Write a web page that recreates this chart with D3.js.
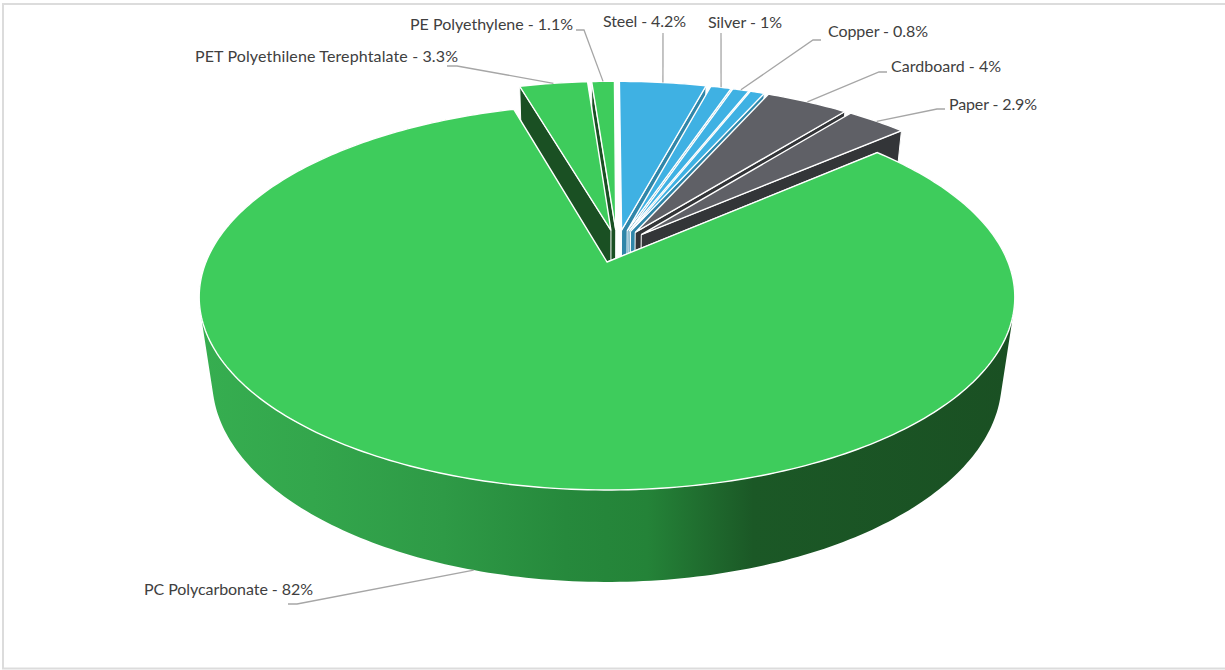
<!DOCTYPE html>
<html><head><meta charset="utf-8">
<script src="https://cdn.jsdelivr.net/npm/d3@7"></script>
<style>html,body{margin:0;padding:0;background:#fff}svg{display:block}</style></head>
<body><svg id="c" width="1225" height="670"></svg>
<script>
const categories=["Steel","Silver","Copper","Other","Cardboard","Paper","PC Polycarbonate","PET Polyethilene Terephtalate","PE Polyethylene"];
const values=[4.2,1,0.8,0.7,4,2.9,82,3.3,1.1];
const tickLabels=["Steel - 4.2%","Silver - 1%","Copper - 0.8%","","Cardboard - 4%","Paper - 2.9%","PC Polycarbonate - 82%","PET Polyethilene Terephtalate - 3.3%","PE Polyethylene - 1.1%"];
const groups=["blue","blue","blue","blue","grey","grey","green","green","green"];

const W=1225,H=670;
const svg=d3.select("#c");
svg.append("rect").attr("x",3).attr("y",4).attr("width",W-2).attr("height",H-5.5).attr("fill","#fff").attr("stroke","#dcdcdc").attr("stroke-width",2);

const topCol={blue:"#3fb1e3",grey:"#5f6066",green:"#3ecc5c"};
const wallCol={blue:"#2f86a9",grey:"#333538",green:"#1a5023"};

const cx=607,cy=262,k=401,m=186.5,d=5.5,depth=85.5,a=0.032,ex=0.09;
function proj(u,v,h){const f=1+v/d+h*a;return [cx+k*u/f,cy-(m*v-depth*h)/f];}

const pie=d3.pie().value(v=>v).sort(null).startAngle(0).endAngle(2*Math.PI);
const arcs=pie(values).map((p,i)=>({...p,i,mid:(p.startAngle+p.endAngle)/2}));
const pc=arcs[6];
const c0=[-ex*Math.sin(pc.mid),-ex*Math.cos(pc.mid)];
arcs.forEach(s=>{s.ax=c0[0]+ex*Math.sin(s.mid);s.ay=c0[1]+ex*Math.cos(s.mid);});
const pt=(s,ang,r,h)=>proj(s.ax+r*Math.sin(ang),s.ay+r*Math.cos(ang),h);
const line=d3.line();
function arcPts(s,h){const n=Math.max(6,Math.ceil((s.endAngle-s.startAngle)*60));
  return d3.range(n+1).map(i=>pt(s,s.startAngle+(s.endAngle-s.startAngle)*i/n,1,h));}

const defs=svg.append("defs");
const g=defs.append("linearGradient").attr("id","wall").attr("gradientUnits","userSpaceOnUse").attr("x1",199).attr("x2",1014).attr("y1",0).attr("y2",0);
[[0,"#36ae50"],[0.14,"#33a64c"],[0.3,"#2e9a46"],[0.45,"#26893c"],[0.55,"#248338"],[0.68,"#1b5826"],[1,"#1a5023"]].forEach(([o,c])=>g.append("stop").attr("offset",o).attr("stop-color",c));

const order=arcs.slice().sort((p,q)=>Math.cos(q.mid)-Math.cos(p.mid));
order.forEach(s=>{
  const grp=svg.append("g"),col=groups[s.i];
  const t=arcPts(s,0),b=arcPts(s,1);
  // the outer wall is one path of same-wound quads, so no seams show; back slices hide theirs
  if(Math.cos(s.mid)<0){
    const quads=d3.range(t.length-1).map(j=>{
      const q=[t[j],t[j+1],b[j+1],b[j]];
      return line(d3.polygonArea(q)<0?q.reverse():q)+"Z";
    }).join("");
    grp.append("path").attr("d",quads).attr("fill","url(#wall)");
  }
  // only the radial wall that faces the viewer
  const ang=s.mid<Math.PI?s.endAngle:s.startAngle;
  const q=[pt(s,0,0,0),pt(s,ang,1,0),pt(s,ang,1,1),pt(s,0,0,1)];
  grp.append("path").attr("d",line(q)+"Z").attr("fill",wallCol[col]).attr("stroke","#fff").attr("stroke-width",1);
  grp.append("path").attr("d",line([pt(s,0,0,0),...t])+"Z").attr("fill",topCol[col]).attr("stroke","#fff").attr("stroke-width",1.4).attr("stroke-linejoin","miter");
});

// labels and leader lines
const labelX=[603,708,828,0,891,949,144,195,410];
const labelY=[27,28,37,0,72,110,595,62,30];
const labelW=[83,74,100,0,110,88,169,263,163];
const elbow=[[663,33],[721,33],[821,40,813,40],[],[887,72,879,72],[945,109,937,109],[288,604,297,604],[447,66,457,66],[576,30,584,30]];
const leader=svg.append("g").attr("fill","none").attr("stroke","#a6a6a6").attr("stroke-width",1.3);
arcs.filter(s=>tickLabels[s.i]).forEach(s=>{
  const e=elbow[s.i],pts=[];
  for(let j=0;j<e.length;j+=2)pts.push([e[j],e[j+1]]);
  pts.push(pt(s,s.mid,1,s.i===6?1:0));
  leader.append("path").attr("d",line(pts));
});
svg.append("g").selectAll("text").data(tickLabels.map((t,i)=>({t,i})).filter(o=>o.t)).join("text")
  .attr("x",o=>labelX[o.i]).attr("y",o=>labelY[o.i])
  .attr("textLength",o=>labelW[o.i]).attr("lengthAdjust","spacing")
  .attr("font-family","Lato, sans-serif").attr("font-size",16).attr("fill","#404040").text(o=>o.t);
</script></body></html>
